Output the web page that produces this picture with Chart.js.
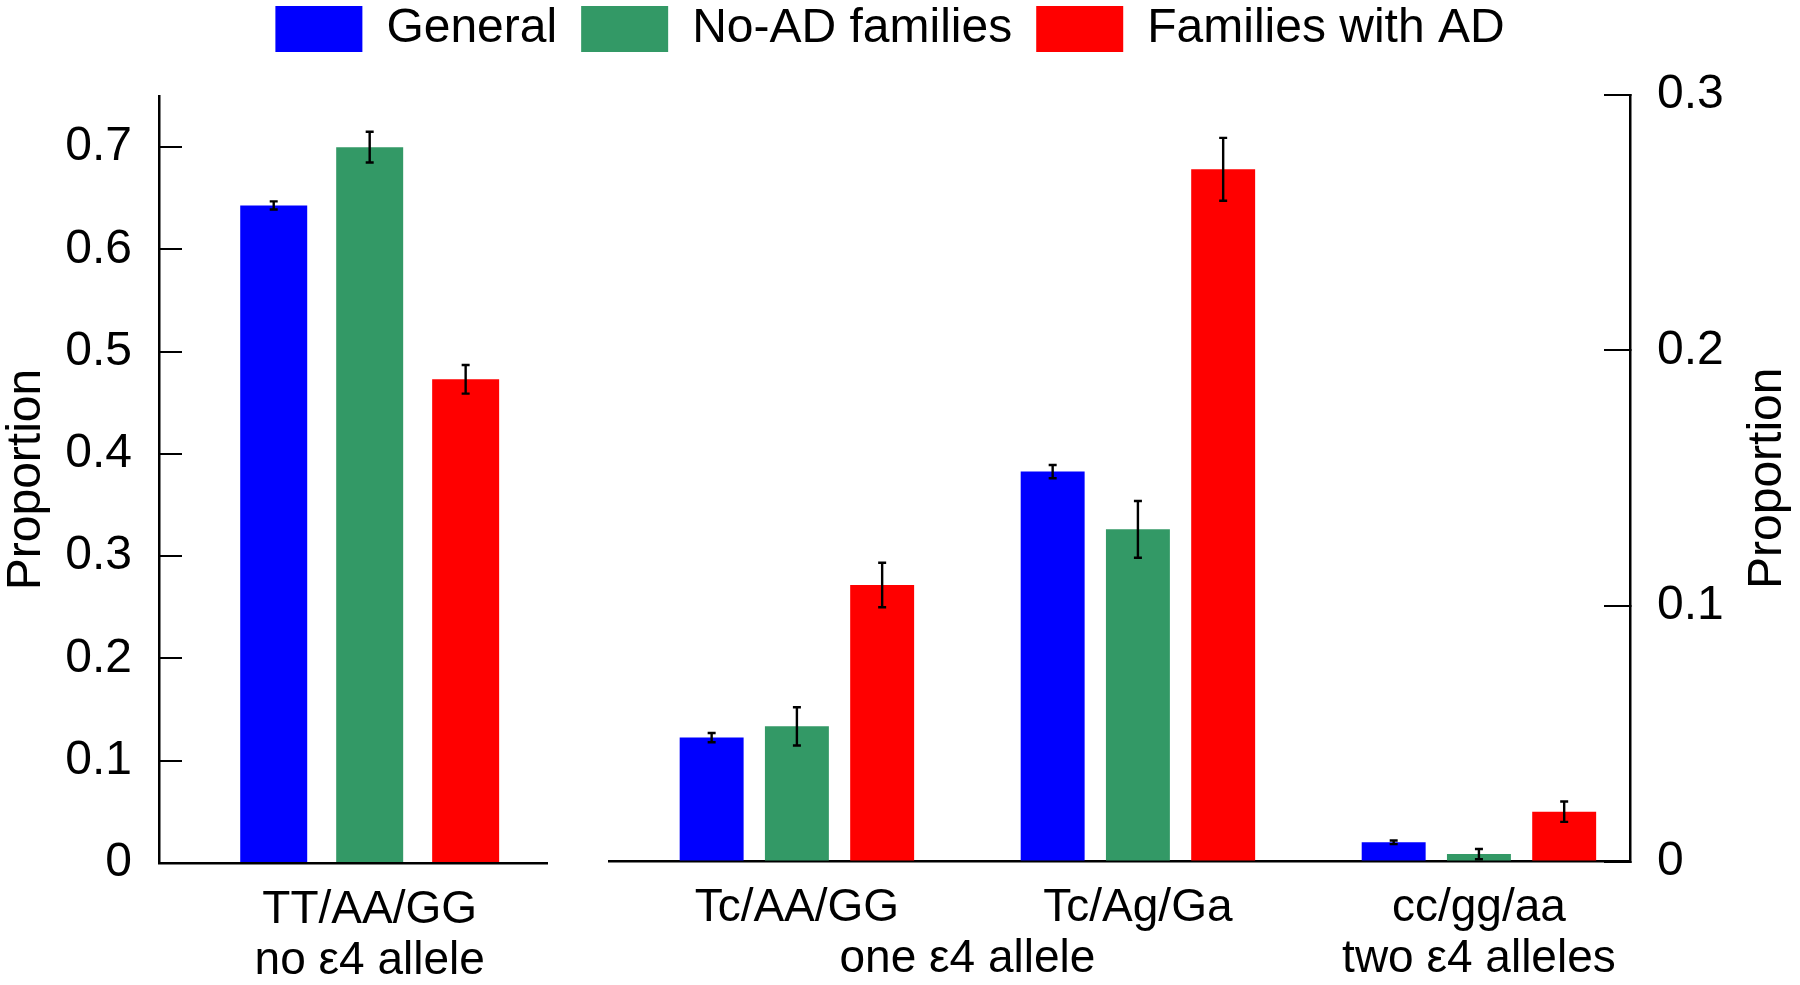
<!DOCTYPE html>
<html><head><meta charset="utf-8">
<script src="https://cdn.jsdelivr.net/npm/chart.js@4.4.1/dist/chart.umd.min.js"></script>
<style>
html,body{margin:0;padding:0;background:#fff;}
#wrap{position:relative;width:1800px;height:985px;overflow:hidden;background:#fff;}
canvas{position:absolute;}
#leftCanvas{left:0;top:0;}
#rightCanvas{left:560px;top:0;}
#legendCanvas{left:-10px;top:-19px;}
</style></head><body>
<div id="wrap">
<canvas id="leftCanvas" width="580" height="985"></canvas>
<canvas id="rightCanvas" width="1240" height="985"></canvas>
<canvas id="legendCanvas" width="1800" height="260"></canvas>
</div>
<script>
// ---------- data ----------
const categories   = ['TT/AA/GG', 'Tc/AA/GG', 'Tc/Ag/Ga', 'cc/gg/aa'];
const alleleGroups = ['no ε4 allele', 'one ε4 allele', 'one ε4 allele', 'two ε4 alleles'];
const seriesNames  = ['General', 'No-AD families', 'Families with AD'];
const general      = [0.643, 0.0485, 0.1526, 0.0075];
const generalErr   = [0.004, 0.0018, 0.0026, 0.0007];
const noAD         = [0.700, 0.0529, 0.1300, 0.0029];
const noADErr      = [0.015, 0.0075, 0.0111, 0.0020];
const withAD       = [0.473, 0.1082, 0.2709, 0.0195];
const withADErr    = [0.014, 0.0087, 0.0123, 0.0040];
const leftTicks    = [0, 0.1, 0.2, 0.3, 0.4, 0.5, 0.6, 0.7];
const rightTicks   = [0, 0.1, 0.2, 0.3];
const axisTitle    = 'Proportion';

// ---------- styles ----------
const FONT = "'Liberation Sans', Arial, Helvetica, sans-serif";
const colors = ['#0000ff', '#339966', '#ff0000'];
const X_PAD = 22, X_FONT = 46, X_LH = 1.1;
Chart.defaults.font.family = FONT;
Chart.defaults.color = '#000';

const values = [general, noAD, withAD];
const errors = [generalErr, noADErr, withADErr];

function makeDatasets(indices) {
  return seriesNames.map((name, s) => ({
    label: name,
    backgroundColor: colors[s],
    borderWidth: 0,
    data: indices.map((ci, k) => ({x: k, y: values[s][ci]})),
    errors: indices.map(ci => errors[s][ci])
  }));
}

const errorBarPlugin = {
  id: 'errorBars',
  afterDatasetsDraw(chart) {
    const ctx = chart.ctx, ys = chart.scales.y;
    ctx.save();
    ctx.strokeStyle = '#000';
    ctx.lineWidth = 2.4;
    chart.data.datasets.forEach((ds, di) => {
      chart.getDatasetMeta(di).data.forEach((bar, i) => {
        const v = ds.data[i].y, e = ds.errors[i];
        const yT = ys.getPixelForValue(v + e), yB = ys.getPixelForValue(v - e);
        ctx.beginPath();
        ctx.moveTo(bar.x, yT); ctx.lineTo(bar.x, yB);
        ctx.moveTo(bar.x - 4, yT); ctx.lineTo(bar.x + 4, yT);
        ctx.moveTo(bar.x - 4, yB); ctx.lineTo(bar.x + 4, yB);
        ctx.stroke();
      });
    });
    ctx.restore();
  }
};

const groupLabelPlugin = {
  id: 'groupLabels',
  afterDraw(chart, args, opts) {
    const xs = chart.scales.x, ctx = chart.ctx;
    const idx = opts.indices;
    const groups = [];
    idx.forEach((ci, k) => {
      const t = alleleGroups[ci];
      const last = groups[groups.length - 1];
      if (last && last.text === t) last.to = k; else groups.push({text: t, from: k, to: k});
    });
    const y = xs.top + X_PAD + X_FONT * X_LH * 1.5;
    ctx.save();
    ctx.font = X_FONT + 'px ' + FONT;
    ctx.fillStyle = '#000';
    ctx.textAlign = 'center';
    ctx.textBaseline = 'middle';
    groups.forEach(g => {
      const x = (xs.getPixelForValue(g.from) + xs.getPixelForValue(g.to)) / 2;
      ctx.fillText(g.text, x, y);
    });
    ctx.restore();
  }
};

const rightTitlePlugin = {
  id: 'rightTitle',
  afterDraw(chart) {
    const ys = chart.scales.y, ctx = chart.ctx;
    ctx.save();
    ctx.translate(ys.right - 32, (ys.top + ys.bottom) / 2);
    ctx.rotate(-Math.PI / 2);
    ctx.font = '48px ' + FONT;
    ctx.fillStyle = '#000';
    ctx.textAlign = 'center';
    ctx.textBaseline = 'middle';
    ctx.fillText(axisTitle, 0, 0);
    ctx.restore();
  }
};

function xScale(indices, min, max, height) {
  return {
    type: 'linear', min: min, max: max, offset: false,
    afterBuildTicks: s => { s.ticks = indices.map((ci, k) => ({value: k})); },
    ticks: {
      callback: v => categories[indices[v]],
      font: {size: X_FONT, lineHeight: X_LH}, color: '#000',
      padding: X_PAD, maxRotation: 0, minRotation: 0, autoSkip: false
    },
    grid: {display: false, drawTicks: false, offset: false},
    border: {display: true, color: '#000', width: 2.5},
    afterFit: s => { s.height = height; }
  };
}

function yScale(position, max, tickVals, tickLen, width) {
  return {
    position: position, min: 0, max: max,
    afterBuildTicks: s => { s.ticks = tickVals.map(v => ({value: v})); },
    ticks: {callback: v => String(v), font: {size: 48}, color: '#000', padding: 27 + tickLen},
    grid: {drawOnChartArea: false, drawTicks: true, tickLength: -tickLen, color: '#000', lineWidth: 2},
    border: {display: true, color: '#000', width: 2.5},
    afterFit: s => { s.width = width; }
  };
}

const common = {
  responsive: false, animation: false, devicePixelRatio: 1,
  events: [],
  plugins: {legend: {display: false}, tooltip: {enabled: false}}
};

// ---------- left panel ----------
const leftIdx = [0];
const leftY = yScale('left', 0.75, leftTicks, 23, 159);
leftY.title = {display: true, text: axisTitle, font: {size: 48, lineHeight: 1}, color: '#000', padding: {top: 3, bottom: 0}};
new Chart(document.getElementById('leftCanvas'), {
  type: 'bar',
  data: {datasets: makeDatasets(leftIdx)},
  options: Object.assign({}, common, {
    layout: {padding: {top: 96, right: 33, left: 0, bottom: 0}},
    datasets: {bar: {categoryPercentage: 0.742, barPercentage: 0.698}},
    scales: {x: xScale(leftIdx, -0.543, 0.457, 122), y: leftY},
    plugins: Object.assign({}, common.plugins, {groupLabels: {indices: leftIdx}})
  }),
  plugins: [errorBarPlugin, groupLabelPlugin]
});

// ---------- right panel ----------
const rightIdx = [1, 2, 3];
new Chart(document.getElementById('rightCanvas'), {
  type: 'bar',
  data: {datasets: makeDatasets(rightIdx)},
  options: Object.assign({}, common, {
    layout: {padding: {top: 95, right: 0, left: 49, bottom: 0}},
    datasets: {bar: {categoryPercentage: 0.75, barPercentage: 0.75}},
    scales: {x: xScale(rightIdx, -0.551, 2.443, 123.5), y: yScale('right', 0.3, rightTicks, 26, 170)},
    plugins: Object.assign({}, common.plugins, {groupLabels: {indices: rightIdx}})
  }),
  plugins: [errorBarPlugin, groupLabelPlugin, rightTitlePlugin]
});

// ---------- legend ----------
new Chart(document.getElementById('legendCanvas'), {
  type: 'bar',
  data: {labels: [], datasets: seriesNames.map((n, s) => ({label: n, data: [], backgroundColor: colors[s], borderWidth: 0}))},
  options: Object.assign({}, common, {
    layout: {padding: 0},
    scales: {x: {display: false}, y: {display: false}},
    plugins: {
      tooltip: {enabled: false},
      legend: {display: true, position: 'top', align: 'center',
        labels: {boxWidth: 87, boxHeight: 46, padding: 24, font: {size: 48}, color: '#000'}}
    }
  })
});
</script>
</body></html>
